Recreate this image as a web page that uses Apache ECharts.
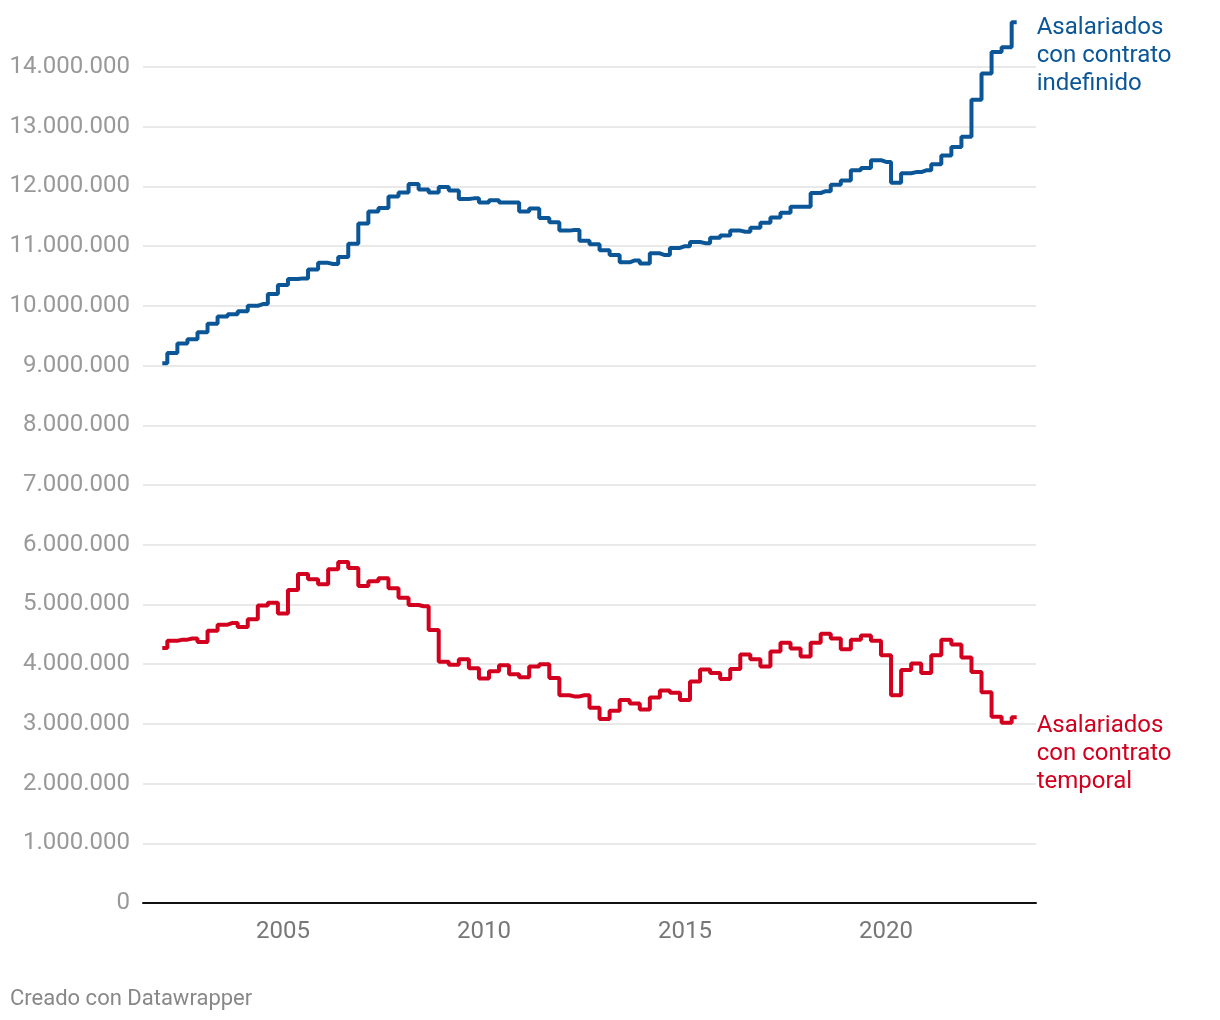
<!DOCTYPE html>
<html>
<head>
<meta charset="utf-8">
<script src="https://cdn.jsdelivr.net/npm/echarts@6/dist/echarts.min.js"></script>
<style>
html,body{margin:0;padding:0;background:#fff;}
#chart{width:1220px;height:1020px;}
</style>
</head>
<body>
<div id="chart"></div>
<script>
// Quarterly data, 2002T1 .. 2023T2 (millions of employees)
const startYear = 2002;
const indefinido = [
  9.04, 9.21, 9.37, 9.44, 9.56, 9.70, 9.82, 9.86, 9.91, 10.00,
  10.03, 10.20, 10.35, 10.45, 10.46, 10.61, 10.72, 10.70, 10.82, 11.04,
  11.38, 11.58, 11.64, 11.83, 11.90, 12.04, 11.95, 11.90, 11.99, 11.93,
  11.79, 11.80, 11.73, 11.77, 11.73, 11.73, 11.58, 11.63, 11.47, 11.40,
  11.26, 11.27, 11.09, 11.03, 10.93, 10.85, 10.73, 10.76, 10.71, 10.88,
  10.85, 10.97, 11.00, 11.07, 11.05, 11.14, 11.18, 11.26, 11.24, 11.31,
  11.39, 11.48, 11.56, 11.66, 11.66, 11.89, 11.92, 12.03, 12.10, 12.27,
  12.31, 12.44, 12.41, 12.06, 12.22, 12.24, 12.27, 12.37, 12.52, 12.66,
  12.83, 13.45, 13.89, 14.25, 14.33, 14.75
];
const temporal = [
  4.27, 4.39, 4.41, 4.43, 4.37, 4.56, 4.66, 4.69, 4.62, 4.75,
  4.98, 5.03, 4.85, 5.24, 5.51, 5.42, 5.34, 5.59, 5.71, 5.61,
  5.31, 5.39, 5.44, 5.27, 5.11, 4.99, 4.97, 4.57, 4.04, 3.99,
  4.08, 3.93, 3.76, 3.88, 3.98, 3.83, 3.78, 3.96, 4.00, 3.77,
  3.48, 3.46, 3.48, 3.27, 3.08, 3.22, 3.40, 3.34, 3.24, 3.44,
  3.56, 3.52, 3.40, 3.71, 3.91, 3.85, 3.75, 3.92, 4.16, 4.08,
  3.96, 4.21, 4.36, 4.26, 4.13, 4.36, 4.51, 4.43, 4.25, 4.41,
  4.48, 4.39, 4.15, 3.48, 3.90, 4.01, 3.85, 4.15, 4.41, 4.33,
  4.11, 3.87, 3.53, 3.12, 3.02, 3.11
];
const xTicks = [2005, 2010, 2015, 2020];
const seriesNames = ['Asalariados\ncon contrato\nindefinido', 'Asalariados\ncon contrato\ntemporal'];
const blue = '#0a5696';
const red = '#d2001e';

function toPairs(arr) {
  return arr.map((v, i) => [startYear + i / 4, Math.round(v * 1e6)]);
}
function fmtThousands(v) {
  return String(Math.round(v)).replace(/\B(?=(\d{3})+(?!\d))/g, '.');
}

const chart = echarts.init(document.getElementById('chart'), null, {renderer: 'canvas'});
chart.setOption({
  animation: false,
  backgroundColor: '#fff',
  textStyle: {fontFamily: 'Roboto'},
  grid: {left: 143, right: 184, top: 67, bottom: 117, containLabel: false},
  xAxis: {
    type: 'value',
    min: 2001.52,
    max: 2023.73,
    axisLine: {show: true, onZero: false, lineStyle: {color: '#111', width: 2}},
    axisTick: {show: false},
    splitLine: {show: false},
    axisLabel: {
      customValues: xTicks,
      color: '#777',
      fontSize: 24,
      fontFamily: 'Roboto',
      margin: 17,
      formatter: v => String(v)
    }
  },
  yAxis: {
    type: 'value',
    min: 0,
    max: 14000000,
    interval: 1000000,
    axisLine: {show: false},
    axisTick: {show: false},
    splitLine: {show: true, lineStyle: {color: '#e2e2e2', width: 1.5}},
    axisLabel: {
      color: '#999',
      fontSize: 24,
      fontFamily: 'Roboto',
      margin: 13,
      formatter: v => fmtThousands(v)
    }
  },
  series: [
    {
      name: 'indefinido',
      type: 'line',
      step: 'middle',
      data: toPairs(indefinido),
      showSymbol: false,
      clip: false,
      lineStyle: {color: blue, width: 4},
      itemStyle: {color: blue},
      endLabel: {
        show: true,
        formatter: () => seriesNames[0],
        color: blue,
        fontSize: 24,
        lineHeight: 28,
        fontFamily: 'Roboto',
        align: 'left',
        verticalAlign: 'top',
        distance: 0,
        offset: [20, -8]
      }
    },
    {
      name: 'temporal',
      type: 'line',
      step: 'middle',
      data: toPairs(temporal),
      showSymbol: false,
      clip: false,
      lineStyle: {color: red, width: 4},
      itemStyle: {color: red},
      endLabel: {
        show: true,
        formatter: () => seriesNames[1],
        color: red,
        fontSize: 24,
        lineHeight: 28,
        fontFamily: 'Roboto',
        align: 'left',
        verticalAlign: 'top',
        distance: 0,
        offset: [20, -5]
      }
    }
  ],
  graphic: [
    {
      type: 'text',
      left: 10,
      top: 988,
      style: {text: 'Creado con Datawrapper', fill: '#888', fontSize: 22, fontFamily: 'Roboto'}
    }
  ]
});
</script>
</body>
</html>
